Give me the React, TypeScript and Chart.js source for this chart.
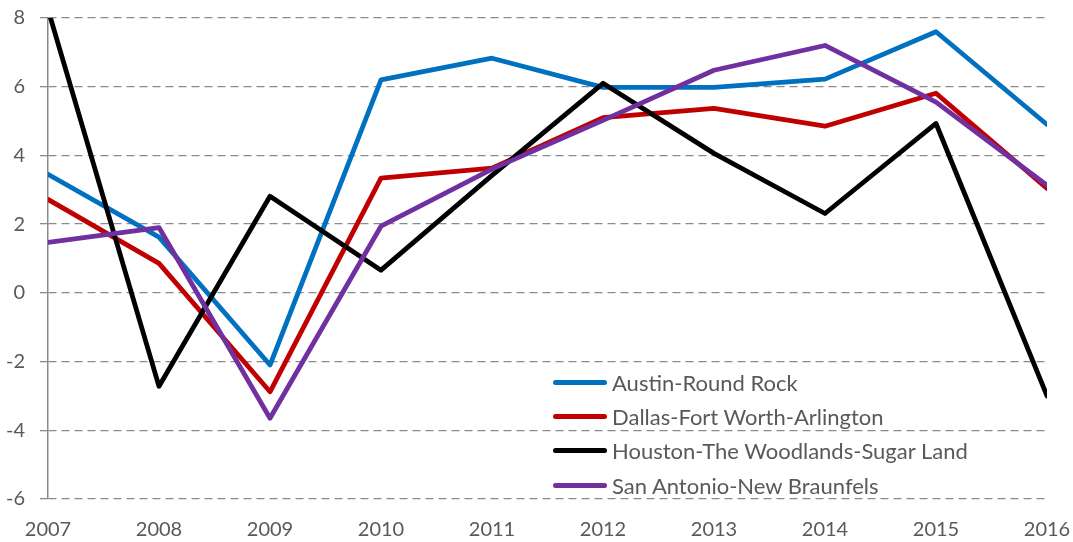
import React, { useEffect, useRef } from "react";
import { Chart, registerables } from "chart.js";

Chart.register(...registerables);

const years = ["2007", "2008", "2009", "2010", "2011", "2012", "2013", "2014", "2015", "2016"];
const austin = [3.45, 1.62, -2.1, 6.2, 6.83, 5.98, 5.98, 6.22, 7.6, 4.9];
const dallas = [2.72, 0.86, -2.88, 3.34, 3.63, 5.1, 5.37, 4.85, 5.81, 3.04];
const houston = [8.25, -2.72, 2.81, 0.66, 3.42, 6.1, 4.06, 2.31, 4.93, -3.0];
const sanAntonio = [1.47, 1.9, -3.65, 1.94, 3.6, 5.02, 6.48, 7.2, 5.55, 3.13];

const seriesNames = [
  "Austin-Round Rock",
  "Dallas-Fort Worth-Arlington",
  "Houston-The Woodlands-Sugar Land",
  "San Antonio-New Braunfels",
];
const seriesColors = ["#0070C0", "#C00000", "#000000", "#7030A0"];
const seriesData = [austin, dallas, houston, sanAntonio];

const FONT = "Lato, 'Open Sans', sans-serif";
const TEXT = "#595959";
const GRID = "#8a8a8a";

export default function App() {
  const ref = useRef<HTMLCanvasElement | null>(null);

  useEffect(() => {
    document.body.style.margin = "0";
    const canvas = ref.current;
    if (!canvas) return;
    const chart = new Chart(canvas, {
      type: "line",
      data: {
        labels: years,
        datasets: seriesData.map((d, i) => ({
          label: seriesNames[i],
          data: d,
          borderColor: seriesColors[i],
          backgroundColor: seriesColors[i],
          borderWidth: 4.8,
          pointRadius: 0,
          pointHoverRadius: 0,
          tension: 0,
          fill: false,
          clip: 0,
          borderCapStyle: "round",
          borderJoinStyle: "round",
          order: 3 - i,
        })),
      },
      options: {
        responsive: false,
        animation: false,
        layout: { padding: { top: 18, right: 26, left: 0, bottom: 0 } },
        plugins: {
          legend: { display: false },
          tooltip: { enabled: false },
        },
        scales: {
          x: {
            type: "category",
            offset: false,
            grid: { display: false, drawTicks: false },
            border: { display: false },
            ticks: {
              color: TEXT,
              font: { family: FONT, size: 20 },
              padding: 19,
              maxRotation: 0,
              autoSkip: false,
            },
            afterFit: (s: any) => {
              s.height = 43;
              s.paddingLeft = 0;
              s.paddingRight = 0;
            },
          },
          y: {
            min: -6,
            max: 8,
            grid: {
              color: GRID,
              lineWidth: 1.3,
              drawTicks: true,
              tickLength: 8,
              tickColor: GRID,
              tickWidth: 1.3,
            },
            border: { display: true, color: GRID, width: 1.5, dash: [8, 5] },
            ticks: {
              stepSize: 2,
              color: TEXT,
              font: { family: FONT, size: 20 },
              padding: 15,
            },
            afterFit: (s: any) => {
              s.width = 48;
              s.paddingTop = 0;
              s.paddingBottom = 0;
            },
          },
        },
      },
    });
    return () => chart.destroy();
  }, []);

  const rowTops = [382, 416, 450, 485];

  return (
    <div style={{ position: "relative", width: 1073, height: 542 }}>
      <canvas ref={ref} width={1073} height={542} style={{ display: "block" }} />
      {seriesNames.map((name, i) => (
        <div
          key={name}
          style={{
            position: "absolute",
            left: 553,
            top: rowTops[i] - 13,
            height: 26,
            display: "flex",
            alignItems: "center",
            whiteSpace: "nowrap",
            fontFamily: FONT,
            fontSize: 22,
            color: TEXT,
          }}
        >
          <span
            style={{
              display: "inline-block",
              width: 54,
              height: 5,
              borderRadius: 3,
              background: seriesColors[i],
              marginRight: 5,
            }}
          />
          <span>{name}</span>
        </div>
      ))}
    </div>
  );
}
